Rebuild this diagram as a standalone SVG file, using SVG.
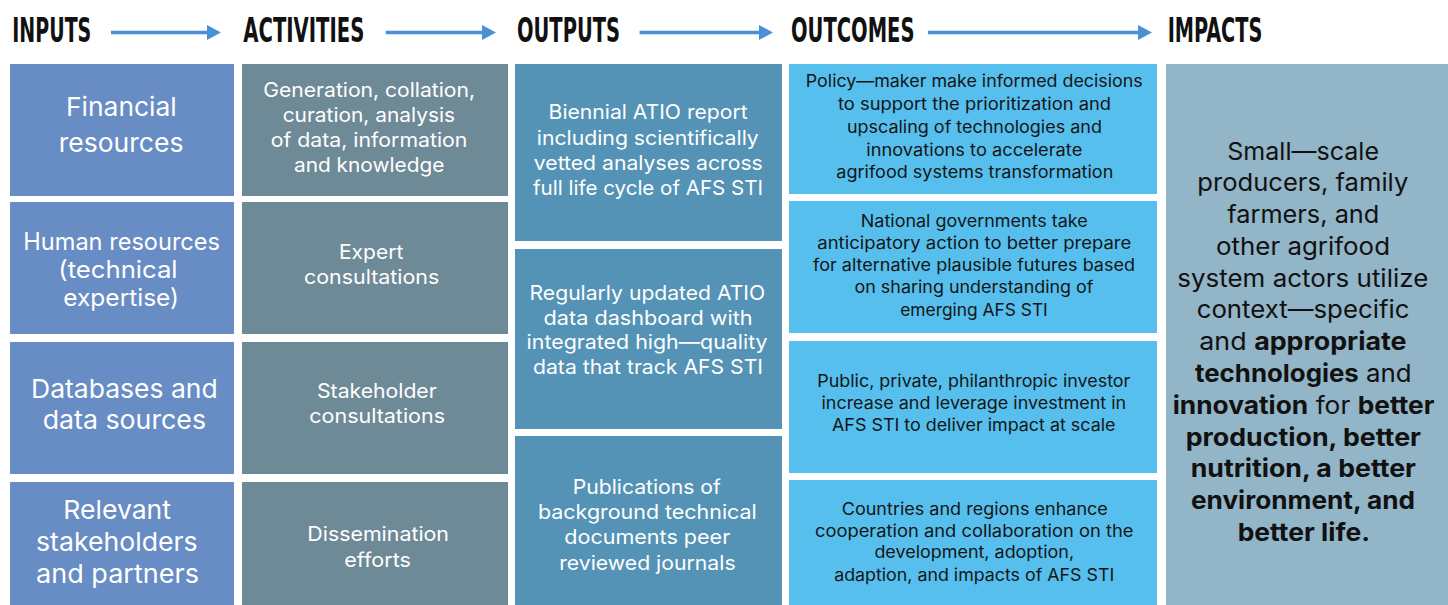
<svg xmlns="http://www.w3.org/2000/svg" width="1448" height="605" viewBox="0 0 1448 605">
<style>
.hd{font-family:"Liberation Sans Narrow","DejaVu Sans Condensed","Liberation Sans",sans-serif;font-weight:bold;font-size:34px;fill:#111;font-stretch:condensed}
.t{font-family:Inter,"Noto Sans","Liberation Sans",sans-serif}
.in{font-size:26px;fill:#fff}
.ac{font-size:20px;fill:#fff}
.op{font-size:20px;fill:#fff}
.oc{font-size:17px;fill:#151515}
.im{font-size:24.5px;fill:#111}
.b{font-weight:bold}
.fin{fill:#688cc4}
.fac{fill:#6e8a97}
.fop{fill:#5493b5}
.foc{fill:#56bfee}
.fim{fill:#92b5c7}
.arr{stroke:#4a90d9;stroke-width:3.5;fill:none}
</style>
<defs>
<marker id="ah" markerUnits="userSpaceOnUse" markerWidth="14" markerHeight="15" refX="0" refY="7.5" orient="auto">
<path d="M0,0 L14,7.5 L0,15 z" fill="#4a90d9"/>
</marker>
</defs>
<rect width="1448" height="605" fill="#fff"/>
<g id="headers">
<text class="hd" x="12.3" y="41.7" textLength="79" lengthAdjust="spacingAndGlyphs">INPUTS</text>
<text class="hd" x="243.3" y="41.7" textLength="121" lengthAdjust="spacingAndGlyphs">ACTIVITIES</text>
<text class="hd" x="517" y="41.7" textLength="103" lengthAdjust="spacingAndGlyphs">OUTPUTS</text>
<text class="hd" x="791" y="41.7" textLength="123.5" lengthAdjust="spacingAndGlyphs">OUTCOMES</text>
<text class="hd" x="1167.7" y="41.7" textLength="94.6" lengthAdjust="spacingAndGlyphs">IMPACTS</text>
</g>
<g id="connectors">
<line class="arr" x1="111" y1="32.5" x2="207" y2="32.5" marker-end="url(#ah)"/>
<line class="arr" x1="385.7" y1="32.5" x2="482" y2="32.5" marker-end="url(#ah)"/>
<line class="arr" x1="639.6" y1="32.5" x2="759" y2="32.5" marker-end="url(#ah)"/>
<line class="arr" x1="928" y1="32.5" x2="1138" y2="32.5" marker-end="url(#ah)"/>
</g>
<g id="input-financial">
<rect class="fin" x="10" y="64" width="224" height="132"/>
<text class="t in" x="66" y="115.7" textLength="110.7" lengthAdjust="spacingAndGlyphs">Financial</text>
<text class="t in" x="58.7" y="151.7" textLength="124.7" lengthAdjust="spacingAndGlyphs">resources</text>
</g>
<g id="input-human">
<rect class="fin" x="10" y="202" width="224" height="132"/>
<text class="t in" style="font-size:24px" x="23.3" y="249.5" textLength="196.7" lengthAdjust="spacingAndGlyphs">Human resources</text>
<text class="t in" style="font-size:24px" x="58.3" y="277.5" textLength="119.3" lengthAdjust="spacingAndGlyphs">(technical</text>
<text class="t in" style="font-size:24px" x="63.3" y="305.5" textLength="115.7" lengthAdjust="spacingAndGlyphs">expertise)</text>
</g>
<g id="input-databases">
<rect class="fin" x="10" y="342" width="224" height="132"/>
<text class="t in" x="31" y="397.7" textLength="186.7" lengthAdjust="spacingAndGlyphs">Databases and</text>
<text class="t in" x="42.7" y="429.3" textLength="163.3" lengthAdjust="spacingAndGlyphs">data sources</text>
</g>
<g id="input-stakeholders">
<rect class="fin" x="10" y="482" width="224" height="123"/>
<text class="t in" x="63.3" y="519" textLength="107.7" lengthAdjust="spacingAndGlyphs">Relevant</text>
<text class="t in" x="36" y="551" textLength="161.7" lengthAdjust="spacingAndGlyphs">stakeholders</text>
<text class="t in" x="36" y="582.7" textLength="163" lengthAdjust="spacingAndGlyphs">and partners</text>
</g>
<g id="activity-generation">
<rect class="fac" x="242" y="64" width="266" height="132"/>
<text class="t ac" x="263.3" y="96.5" textLength="211.7" lengthAdjust="spacingAndGlyphs">Generation, collation,</text>
<text class="t ac" x="282.7" y="121.5" textLength="172.3" lengthAdjust="spacingAndGlyphs">curation, analysis</text>
<text class="t ac" x="270.7" y="146.5" textLength="196.7" lengthAdjust="spacingAndGlyphs">of data, information</text>
<text class="t ac" x="294" y="171.5" textLength="150.3" lengthAdjust="spacingAndGlyphs">and knowledge</text>
</g>
<g id="activity-expert">
<rect class="fac" x="242" y="202" width="266" height="132"/>
<text class="t ac" x="339" y="259" textLength="64.3" lengthAdjust="spacingAndGlyphs">Expert</text>
<text class="t ac" x="304" y="284.3" textLength="135.3" lengthAdjust="spacingAndGlyphs">consultations</text>
</g>
<g id="activity-stakeholder">
<rect class="fac" x="242" y="342" width="266" height="132"/>
<text class="t ac" x="317" y="398.3" textLength="119.7" lengthAdjust="spacingAndGlyphs">Stakeholder</text>
<text class="t ac" x="309.3" y="423.3" textLength="135.7" lengthAdjust="spacingAndGlyphs">consultations</text>
</g>
<g id="activity-dissemination">
<rect class="fac" x="242" y="482" width="266" height="123"/>
<text class="t ac" x="307.3" y="541" textLength="141.7" lengthAdjust="spacingAndGlyphs">Dissemination</text>
<text class="t ac" x="344.3" y="566.7" textLength="66.7" lengthAdjust="spacingAndGlyphs">efforts</text>
</g>
<g id="output-report">
<rect class="fop" x="515" y="64" width="267" height="177"/>
<text class="t op" x="548.6" y="119" textLength="199" lengthAdjust="spacingAndGlyphs">Biennial ATIO report</text>
<text class="t op" x="536.8" y="145" textLength="222" lengthAdjust="spacingAndGlyphs">including scientifically</text>
<text class="t op" x="533.8" y="170" textLength="229" lengthAdjust="spacingAndGlyphs">vetted analyses across</text>
<text class="t op" x="533" y="195" textLength="230" lengthAdjust="spacingAndGlyphs">full life cycle of AFS STI</text>
</g>
<g id="output-dashboard">
<rect class="fop" x="515" y="249" width="267" height="180"/>
<text class="t op" x="529.6" y="300" textLength="235.6" lengthAdjust="spacingAndGlyphs">Regularly updated ATIO</text>
<text class="t op" x="543.6" y="324.5" textLength="209" lengthAdjust="spacingAndGlyphs">data dashboard with</text>
<text class="t op" x="526.6" y="349.3" textLength="241" lengthAdjust="spacingAndGlyphs">integrated high—quality</text>
<text class="t op" x="533" y="374.3" textLength="230" lengthAdjust="spacingAndGlyphs">data that track AFS STI</text>
</g>
<g id="output-publications">
<rect class="fop" x="515" y="436" width="267" height="169"/>
<text class="t op" x="572.8" y="494" textLength="148" lengthAdjust="spacingAndGlyphs">Publications of</text>
<text class="t op" x="538" y="519.3" textLength="218.8" lengthAdjust="spacingAndGlyphs">background technical</text>
<text class="t op" x="564.3" y="544" textLength="166" lengthAdjust="spacingAndGlyphs">documents peer</text>
<text class="t op" x="559.2" y="569.5" textLength="176.4" lengthAdjust="spacingAndGlyphs">reviewed journals</text>
</g>
<g id="outcome-policy">
<rect class="foc" x="789" y="64" width="368" height="130"/>
<text class="t oc" x="805.8" y="87" textLength="337" lengthAdjust="spacingAndGlyphs">Policy—maker make informed decisions</text>
<text class="t oc" x="838" y="110" textLength="273" lengthAdjust="spacingAndGlyphs">to support the prioritization and</text>
<text class="t oc" x="846.9" y="133" textLength="255" lengthAdjust="spacingAndGlyphs">upscaling of technologies and</text>
<text class="t oc" x="866.3" y="155.5" textLength="216" lengthAdjust="spacingAndGlyphs">innovations to accelerate</text>
<text class="t oc" x="836.3" y="177.5" textLength="277" lengthAdjust="spacingAndGlyphs">agrifood systems transformation</text>
</g>
<g id="outcome-governments">
<rect class="foc" x="789" y="201" width="368" height="132"/>
<text class="t oc" x="860.8" y="226.7" textLength="227" lengthAdjust="spacingAndGlyphs">National governments take</text>
<text class="t oc" x="817.3" y="249" textLength="314" lengthAdjust="spacingAndGlyphs">anticipatory action to better prepare</text>
<text class="t oc" x="813" y="271" textLength="322" lengthAdjust="spacingAndGlyphs">for alternative plausible futures based</text>
<text class="t oc" x="854.5" y="293" textLength="239" lengthAdjust="spacingAndGlyphs">on sharing understanding of</text>
<text class="t oc" x="900.2" y="315.5" textLength="147.6" lengthAdjust="spacingAndGlyphs">emerging AFS STI</text>
</g>
<g id="outcome-investors">
<rect class="foc" x="789" y="341" width="368" height="132"/>
<text class="t oc" x="817.3" y="386.7" textLength="313" lengthAdjust="spacingAndGlyphs">Public, private, philanthropic investor</text>
<text class="t oc" x="821.5" y="408.5" textLength="304.6" lengthAdjust="spacingAndGlyphs">increase and leverage investment in</text>
<text class="t oc" x="832" y="431" textLength="283.5" lengthAdjust="spacingAndGlyphs">AFS STI to deliver impact at scale</text>
</g>
<g id="outcome-countries">
<rect class="foc" x="789" y="480" width="368" height="125"/>
<text class="t oc" x="841.8" y="515" textLength="266" lengthAdjust="spacingAndGlyphs">Countries and regions enhance</text>
<text class="t oc" x="815" y="536.7" textLength="318.5" lengthAdjust="spacingAndGlyphs">cooperation and collaboration on the</text>
<text class="t oc" x="874.4" y="558" textLength="199.7" lengthAdjust="spacingAndGlyphs">development, adoption,</text>
<text class="t oc" x="834.2" y="580.5" textLength="280" lengthAdjust="spacingAndGlyphs">adaption, and impacts of AFS STI</text>
</g>
<g id="impact">
<rect class="fim" x="1166" y="64" width="282" height="541"/>
<text class="t im" x="1227.3" y="159.5" textLength="151.7" lengthAdjust="spacingAndGlyphs">Small—scale</text>
<text class="t im" x="1197.3" y="191.3" textLength="211" lengthAdjust="spacingAndGlyphs">producers, family</text>
<text class="t im" x="1227.3" y="223" textLength="152" lengthAdjust="spacingAndGlyphs">farmers, and</text>
<text class="t im" x="1216" y="254.8" textLength="174" lengthAdjust="spacingAndGlyphs">other agrifood</text>
<text class="t im" x="1177.3" y="286.6" textLength="251" lengthAdjust="spacingAndGlyphs">system actors utilize</text>
<text class="t im" x="1196.7" y="318.4" textLength="212.7" lengthAdjust="spacingAndGlyphs">context—specific</text>
<text class="t im" x="1199.3" y="350.2" textLength="207.3" lengthAdjust="spacingAndGlyphs">and <tspan class="b">appropriate</tspan></text>
<text class="t im" x="1195" y="382" textLength="216.7" lengthAdjust="spacingAndGlyphs"><tspan class="b">technologies</tspan> and</text>
<text class="t im" x="1172.7" y="413.8" textLength="261.7" lengthAdjust="spacingAndGlyphs"><tspan class="b">innovation</tspan> for <tspan class="b">better</tspan></text>
<text class="t im b" x="1185.7" y="445.6" textLength="235.3" lengthAdjust="spacingAndGlyphs">production, better</text>
<text class="t im b" x="1190.7" y="477.4" textLength="225.3" lengthAdjust="spacingAndGlyphs">nutrition, a better</text>
<text class="t im b" x="1191" y="509.2" textLength="224" lengthAdjust="spacingAndGlyphs">environment, and</text>
<text class="t im b" x="1237.7" y="541" textLength="132.3" lengthAdjust="spacingAndGlyphs">better life.</text>
</g>
</svg>
